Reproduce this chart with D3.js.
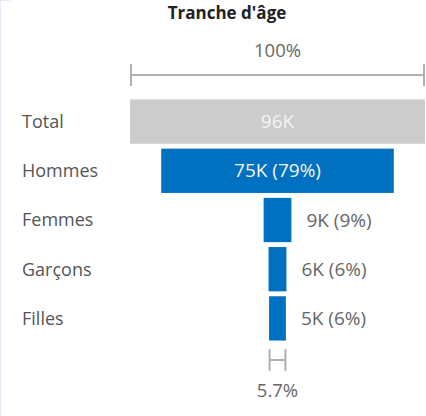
<!DOCTYPE html>
<html>
<head>
<meta charset="utf-8">
<script src="https://cdn.jsdelivr.net/npm/d3@7"></script>
<style>
    body { margin: 0; background: #fff; }
    #chart { width: 426px; height: 416px; }
    text { font-family: "Open Sans", "Segoe UI", sans-serif; }
</style>
</head>
<body>
<div id="chart"></div>
<script>
    // data
    var categories = ["Total", "Hommes", "Femmes", "Garçons", "Filles"];
    var values = [95650, 75400, 9000, 5800, 5450];
    var valueLabels = ["96K", "75K (79%)", "9K (9%)", "6K (6%)", "5K (6%)"];
    var topLabel = "100%";
    var bottomLabel = "5.7%";
    var title = "Tranche d'âge";

    var width = 426,
        height = 416;

    var svg = d3.select("#chart")
        .append("svg")
        .attr("width", width)
        .attr("height", height);

    // faint frame on the left
    svg.append("line")
        .attr("x1", 0.5).attr("x2", 0.5)
        .attr("y1", 0).attr("y2", height)
        .style("stroke", "#e3ecf7");
    svg.append("line")
        .attr("x1", 0).attr("x2", 10)
        .attr("y1", 0.5).attr("y2", 0.5)
        .style("stroke", "#e3ecf7");

    var plotLeft = 130,
        plotRight = 425,
        center = (plotLeft + plotRight) / 2;

    var x = d3.scaleLinear()
        .domain([0, d3.max(values)])
        .range([0, plotRight - plotLeft]);

    var y = d3.scaleBand()
        .domain(categories)
        .range([97, 343])
        .paddingInner(0.1)
        .paddingOuter(0.05);

    svg.append("text")
        .attr("x", 227)
        .attr("y", 19)
        .attr("text-anchor", "middle")
        .style("font-size", "17px")
        .style("font-weight", "bold")
        .style("fill", "#222")
        .text(title);

    // brackets for the largest and smallest values
    function bracket(cy, w, label, labelY) {
        var g = svg.append("g").style("stroke", "#b5b0ac").style("stroke-width", 2);
        g.append("line")
            .attr("x1", center - w / 2).attr("x2", center + w / 2)
            .attr("y1", cy).attr("y2", cy);
        g.append("line")
            .attr("x1", center - w / 2).attr("x2", center - w / 2)
            .attr("y1", cy - 11).attr("y2", cy + 11);
        g.append("line")
            .attr("x1", center + w / 2).attr("x2", center + w / 2)
            .attr("y1", cy - 11).attr("y2", cy + 11);
        svg.append("text")
            .attr("x", center)
            .attr("y", labelY)
            .attr("text-anchor", "middle")
            .style("font-size", "18.5px")
            .style("fill", "#666")
            .text(label);
    }

    bracket(75, x(d3.max(values)) - 2, topLabel, 57);
    bracket(360, x(d3.min(values)) - 1, bottomLabel, 397);

    // bars
    var rows = svg.append("g")
        .selectAll("g")
        .data(categories)
        .enter().append("g");

    rows.append("text")
        .attr("x", 22)
        .attr("y", function (d) { return y(d) + y.bandwidth() / 2; })
        .attr("dy", "0.35em")
        .style("font-size", "18px")
        .style("fill", "#555")
        .text(function (d) { return d; });

    rows.append("rect")
        .attr("x", function (d, i) { return center - x(values[i]) / 2; })
        .attr("y", function (d) { return y(d); })
        .attr("width", function (d, i) { return x(values[i]); })
        .attr("height", y.bandwidth())
        .style("fill", function (d, i) { return i === 0 ? "#cccccc" : "#0070c0"; });

    rows.append("text")
        .attr("x", function (d, i) {
            return x(values[i]) > 90 ? center : center + x(values[i]) / 2 + 15;
        })
        .attr("y", function (d) { return y(d) + y.bandwidth() / 2; })
        .attr("dy", "0.35em")
        .attr("text-anchor", function (d, i) { return x(values[i]) > 90 ? "middle" : "start"; })
        .style("font-size", "19px")
        .style("fill", function (d, i) { return x(values[i]) > 90 ? "#f4f4f4" : "#666"; })
        .text(function (d, i) { return valueLabels[i]; });
</script>
</body>
</html>
